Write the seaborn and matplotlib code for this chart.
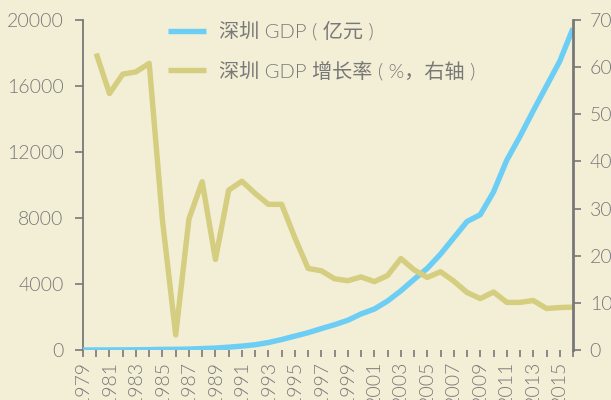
import matplotlib
matplotlib.use("Agg")
import matplotlib.pyplot as plt
import seaborn as sns
import pandas as pd

# Shenzhen GDP (100 million yuan) and growth rate (%)
years = list(range(1979, 2017))
gdp = [1.96, 2.7, 4.96, 8.26, 13.12, 23.42, 39.02, 41.65, 55.9, 86.98,
       115.66, 171.67, 236.66, 317.32, 453.14, 634.67, 842.48, 1048.44, 1297.42, 1534.73,
       1804.02, 2187.45, 2482.49, 2969.52, 3585.72, 4282.14, 4950.91, 5813.56, 6801.57, 7786.79,
       8201.32, 9581.51, 11505.53, 12950.06, 14500.23, 16001.82, 17502.86, 19492.60]
growth_years = list(range(1980, 2017))
growth = [62.9, 54.4, 58.5, 59.0, 60.8, 27.5, 3.2, 27.8, 35.7, 19.2,
          33.9, 35.8, 33.2, 30.9, 30.9, 23.8, 17.3, 16.8, 15.1, 14.7,
          15.5, 14.5, 15.8, 19.4, 17.0, 15.4, 16.6, 14.6, 12.2, 10.9,
          12.3, 10.1, 10.1, 10.5, 8.8, 9.0, 9.1]
tick_labels = [str(y) if (y - 1979) % 2 == 0 else "" for y in years]

BG = "#F3EFD6"
BLUE = "#6CCEF5"
OLIVE = "#D5CE80"
GRAY = "#787878"

sns.set_theme(style="ticks")
plt.rcParams["font.family"] = ["Lato", "Noto Sans CJK SC", "DejaVu Sans"]
plt.rcParams["font.weight"] = 300

df_gdp = pd.DataFrame({"year": years, "gdp": gdp})
df_growth = pd.DataFrame({"year": growth_years, "growth": growth})

fig = plt.figure(figsize=(6.11, 4.0), dpi=100, facecolor=BG)
ax = fig.add_axes([83 / 611, 50 / 400, 490 / 611, 330 / 400])
ax.set_facecolor(BG)
ax2 = ax.twinx()

sns.lineplot(data=df_gdp, x="year", y="gdp", ax=ax, color=BLUE, linewidth=3.9,
             label="深圳 GDP ( 亿元 )", legend=False, solid_joinstyle="round",
             solid_capstyle="butt", zorder=3)
sns.lineplot(data=df_growth, x="year", y="growth", ax=ax2, color=OLIVE, linewidth=3.9,
             label="深圳 GDP 增长率 ( %，右轴 )", legend=False, solid_joinstyle="round",
             solid_capstyle="butt", zorder=2)

ax.set_xlim(1979, 2016)
ax.set_ylim(0, 20000)
ax2.set_ylim(0, 70)
ax.set_yticks(range(0, 20001, 4000))
ax2.set_yticks(range(0, 71, 10))
ax.set_xticks(years)
ax.set_xticklabels(tick_labels, rotation=90)
ax.set_xlabel("")
ax.set_ylabel("")
ax2.set_ylabel("")

for a in (ax, ax2):
    a.spines["top"].set_visible(False)
    a.spines["bottom"].set_visible(False)
    a.spines["left"].set_color(GRAY)
    a.spines["right"].set_color(GRAY)
    a.tick_params(colors=GRAY, labelsize=14, length=6, width=1.2, direction="out")
ax.spines["right"].set_visible(False)
ax2.spines["left"].set_visible(False)
ax.spines["left"].set_linewidth(1.3)
ax2.spines["right"].set_linewidth(2)
ax.tick_params(axis="x", length=5, pad=3)
ax.tick_params(axis="y", pad=8)
ax2.tick_params(axis="y", pad=6)

h1, l1 = ax.get_legend_handles_labels()
h2, l2 = ax2.get_legend_handles_labels()
leg = fig.legend(h1 + h2, l1 + l2, loc="upper left", bbox_to_anchor=(168 / 611, 1 - 21 / 400),
                 frameon=False, fontsize=14.5, handlelength=1.9, handletextpad=0.62,
                 labelspacing=0.98, borderpad=0, borderaxespad=0)
for t in leg.get_texts():
    t.set_color(GRAY)

fig.savefig("out.png", dpi=100, facecolor=BG)
